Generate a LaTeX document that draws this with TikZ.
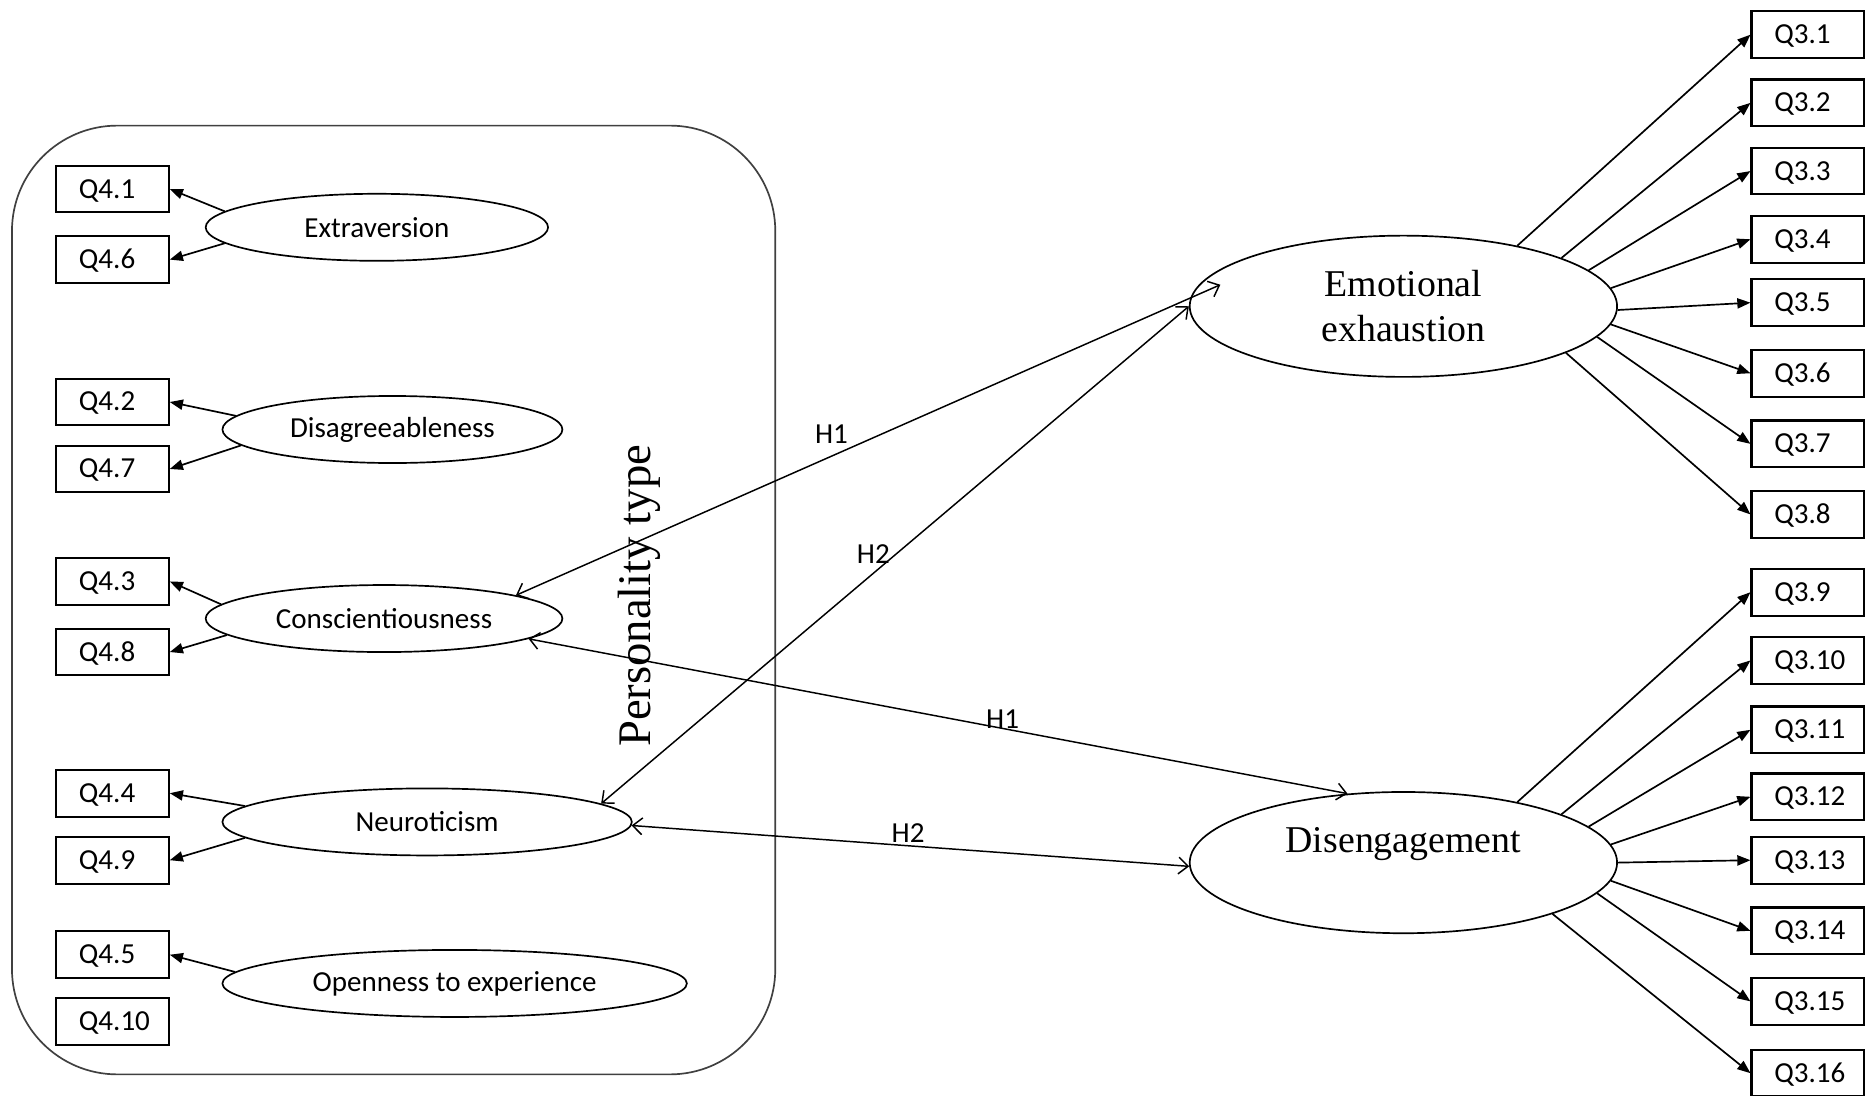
\documentclass[tikz,border=0pt]{standalone}
\usepackage{fontspec}
\setmainfont{Liberation Serif}
\newfontfamily\calib{Carlito}
\usetikzlibrary{shapes.geometric,arrows.meta}

\tikzset{
  smalltext/.style={font=\calib\fontsize{6.9}{8}\selectfont},
  item/.style={draw, line width=0.5pt, smalltext, minimum height=0.39cm,
    text width=0.56cm, inner xsep=0.19cm, inner ysep=0pt, align=left,
    text height=0.15cm, text depth=0pt},
  trait/.style={draw, ellipse, line width=0.4pt, inner sep=0pt, smalltext,
    minimum height=0.56cm},
  factor/.style={draw, ellipse, line width=0.4pt, inner sep=0pt,
    minimum width=3.57cm, minimum height=1.18cm, align=center,
    font=\fontsize{9}{10.8}\selectfont},
  load/.style={line width=0.4pt, -{Triangle[length=0.11cm,width=0.085cm]}},
  hyp/.style={line width=0.35pt,
    {Straight Barb[length=0.08cm,width=0.14cm]}-{Straight Barb[length=0.08cm,width=0.14cm]}},
  hlabel/.style={smalltext, inner sep=0pt},
  frame/.style={draw=black!75, line width=0.4pt, rounded corners=0.88cm}
}

\begin{document}
\begin{tikzpicture}[x=0.01cm, y=-0.01cm]
\fill[white] (0,0) rectangle (1568,916);
\useasboundingbox (0,0) rectangle (1568,916);

% group frame for the personality traits
\draw[frame] (10,105) rectangle (648,898);
\node[rotate=90, font=\fontsize{11.1}{13}\selectfont, inner sep=0pt] (ptype) at (534,498) {Personality type};

% personality items
\node[item] (q41) at (94,158) {Q4.1};
\node[item] (q46) at (94,217) {Q4.6};
\node[item] (q42) at (94,336) {Q4.2};
\node[item] (q47) at (94,392) {Q4.7};
\node[item] (q43) at (94,486) {Q4.3};
\node[item] (q48) at (94,545) {Q4.8};
\node[item] (q44) at (94,663) {Q4.4};
\node[item] (q49) at (94,719) {Q4.9};
\node[item] (q45) at (94,798) {Q4.5};
\node[item] (q410) at (94,854) {Q4.10};

% traits
\node[trait, minimum width=2.86cm] (ext) at (315,190) {Extraversion};
\node[trait, minimum width=2.84cm] (dis1) at (328,359) {Disagreeableness};
\node[trait, minimum width=2.98cm] (con) at (321,517) {Conscientiousness};
\node[trait, minimum width=3.42cm] (neu) at (357,687) {Neuroticism};
\node[trait, minimum width=3.88cm] (opn) at (380,822) {Openness to experience};

\draw[load] (ext.174.5) -- (q41.east);
\draw[load] (ext.186) -- (q46.east);
\draw[load] (dis1.175) -- (q42.east);
\draw[load] (dis1.186) -- (q47.east);
\draw[load] (con.175) -- (q43.east);
\draw[load] (con.186) -- (q48.east);
\draw[load] (neu.175.5) -- (q44.east);
\draw[load] (neu.185) -- (q49.east);
\draw[load] (opn.177) -- (q45.east);

% burnout factors
\node[factor] (ee) at (1173,256) {Emotional\\exhaustion};
\node[factor] (dg) at (1173,721) {Disengagement\\~};

% burnout items
\foreach \n/\y in {1/29,2/86,3/143,4/200,5/253,6/312,7/371,8/430,
                   9/495,10/552,11/610,12/666,13/719,14/778,15/837,16/897}
  \node[item] (q3-\n) at (1511,\y) {Q3.\n};

\foreach \n/\a in {1/28.5,2/17.9,3/11.2,4/5.5,5/-1,6/-5.5,7/-9.2,8/-16}
  \draw[load] (ee.\a) -- (q3-\n.west);
\foreach \n/\a in {9/28.5,10/17.5,11/11,12/5,13/-0.5,14/-5.5,15/-9,16/-19.5}
  \draw[load] (dg.\a) -- (q3-\n.west);

% hypothesised relations
\coordinate (eetip) at (1020,238);
\draw[hyp] (con.10) -- (eetip);
\draw[hyp] (neu.6.8) -- (ee.180);
\draw[hyp] (con.352.8) -- (dg.129.4);
\draw[hyp] (neu.-1.3) -- (dg.181);

\node[hlabel] (h1a) at (695,363) {H1};
\node[hlabel] (h2a) at (730,463) {H2};
\node[hlabel] (h1b) at (838,601) {H1};
\node[hlabel] (h2b) at (759,696) {H2};
\end{tikzpicture}
\end{document}
